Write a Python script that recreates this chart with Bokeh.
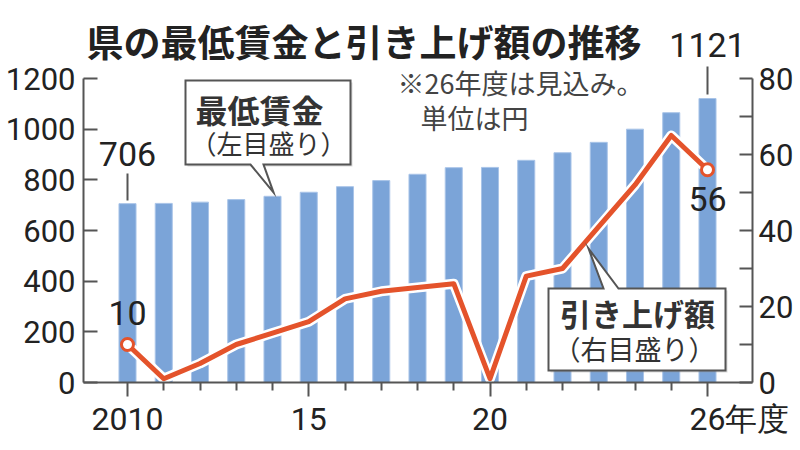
from bokeh.plotting import figure
from bokeh.models import Range1d, LinearAxis, FixedTicker
from bokeh.core.properties import value
from bokeh.embed import file_html
from bokeh.resources import INLINE

# ---- data ----
years = list(range(2010, 2027))
min_wage = [706, 707, 712, 722, 735, 751, 773, 797, 822, 848, 849, 877, 907, 948, 1000, 1065, 1121]
increase = [10, 1, 5, 10, 13, 16, 22, 24, 25, 26, 1, 28, 30, 41, 52, 65, 56]
left_ticks = [0, 200, 400, 600, 800, 1000, 1200]
right_ticks = [0, 20, 40, 60, 80]
right_minor = [10, 30, 50, 70]
x_major = [2010, 2015, 2020, 2026]
x_labels = {2010: "2010", 2015: "15", 2020: "20", 2026: "\u3000\u300026年度"}
title_text = "県の最低賃金と引き上げ額の推移"
note_lines = ["※26年度は見込み。", "単位は円"]
callout1 = ["最低賃金", "（左目盛り）"]
callout2 = ["引き上げ額", "（右目盛り）"]

NUM_FONT = "Roboto"
JP_FONT = "Noto Sans CJK JP"
BAR_C = "#7ba4d8"
LINE_C = "#e4532b"
AX_C = "#555555"
TXT_C = "#222222"

# pixel helpers (canvas pixel coords -> data)
def X(ix):
    return 2010 + (ix - 127) / 36.25

def YL(iy):
    return (382 - iy) * 1200 / 304

def YR(iy):
    return (382 - iy) * 80 / 304

p = figure(width=800, height=450, output_backend="svg", toolbar_location=None,
           x_range=Range1d(X(83), X(752)), y_range=Range1d(0, YL(0)),
           min_border_left=83, min_border_right=48, min_border_top=0, min_border_bottom=68)
p.extra_y_ranges = {"right": Range1d(0, YR(0))}
p.outline_line_color = None
p.xgrid.visible = False
p.ygrid.visible = False
p.background_fill_color = "white"
p.border_fill_color = "white"

def style_axis(ax, size="31px"):
    ax.axis_line_color = AX_C
    ax.axis_line_width = 2
    ax.major_tick_line_color = AX_C
    ax.major_tick_line_width = 2
    ax.minor_tick_line_color = AX_C
    ax.minor_tick_line_width = 2
    ax.major_label_text_font = NUM_FONT
    ax.major_label_text_font_size = size
    ax.major_label_text_color = TXT_C

# left axis
la = p.yaxis[0]
la.ticker = FixedTicker(ticks=left_ticks, minor_ticks=[])
la.bounds = (0, 1200)
style_axis(la)
la.major_tick_in = 14
la.major_tick_out = 0
la.major_label_standoff = 8

# right axis
ra = LinearAxis(y_range_name="right", ticker=FixedTicker(ticks=right_ticks, minor_ticks=right_minor), bounds=(0, 80))
style_axis(ra)
ra.major_tick_in = 13
ra.major_tick_out = 0
ra.minor_tick_in = 13
ra.minor_tick_out = 0
ra.major_label_standoff = 6
p.add_layout(ra, "right")

# bottom axis
xa = p.xaxis[0]
xa.ticker = FixedTicker(ticks=x_major, minor_ticks=[y for y in years if y not in x_major])
xa.major_label_overrides = x_labels
style_axis(xa, "32px")
xa.major_tick_in = 0
xa.major_tick_out = 14
xa.minor_tick_in = 0
xa.minor_tick_out = 8
xa.major_label_standoff = 3

# bars
p.vbar(x=years, top=min_wage, width=0.47, fill_color=BAR_C, line_color="#a9c4e8", line_width=1)

# increase line
p.line(years, increase, y_range_name="right", line_width=10, line_color="white", line_join="round")
p.line(years, increase, y_range_name="right", line_width=5, line_color=LINE_C, line_join="round")
p.scatter([years[0], years[-1]], [increase[0], increase[-1]], y_range_name="right",
          size=12, fill_color="white", line_color=LINE_C, line_width=3)

# leader lines for bar values
p.segment(x0=[years[0], years[-1]], y0=[min_wage[0] + 12, min_wage[-1] + 16],
          x1=[years[0], years[-1]], y1=[YL(173), YL(66)], line_color=AX_C, line_width=2)

# value labels
p.text(x=[years[0], years[-1]], y=[YL(153), YL(44)],
       text=[str(min_wage[0]), str(min_wage[-1])],
       text_font=value(NUM_FONT), text_font_size="34px", text_align="center",
       text_baseline="middle", text_color=TXT_C)
p.text(x=[years[0], years[-1]], y=[increase[0] + 8.2, increase[-1] - 7.6],
       text=[str(increase[0]), str(increase[-1])], y_range_name="right",
       text_font=value(NUM_FONT), text_font_size="34px", text_align="center",
       text_baseline="middle", text_color=TXT_C)

# title with cube icon
cx, cy, r = 65, 39, 13
top = (cx, cy - r); ur = (cx + 11, cy - r / 2); lr = (cx + 11, cy + r / 2)
bot = (cx, cy + r); ll = (cx - 11, cy + r / 2); ul = (cx - 11, cy - r / 2); cc = (cx, cy)
faces = [([top, ur, cc, ul], "#9a9a9a"), ([ul, cc, bot, ll], "#1a1a1a"), ([cc, ur, lr, bot], "#d6d6d6")]
for pts, col in faces:
    p.patch([X(a) for a, b in pts], [YL(b) for a, b in pts], fill_color=col, line_color="#555555", line_width=1)

p.text(x=[X(86)], y=[YL(40)], text=[title_text], text_font=value(JP_FONT), text_font_style="bold",
       text_font_size="37px", text_align="left", text_baseline="middle", text_color=TXT_C)

# note
p.text(x=[X(397), X(420)], y=[YL(82), YL(117)], text=note_lines, text_font=value(JP_FONT),
       text_font_size="27px", text_align="left", text_baseline="middle", text_color="#444444")

# callouts
def callout(pts, lines, centers, sizes, bold):
    sx = [X(a + 2) for a, b in pts]
    sy = [YL(b + 2) for a, b in pts]
    p.patch(sx, sy, fill_color="#999999", fill_alpha=0.35, line_color=None)
    p.patch([X(a) for a, b in pts], [YL(b) for a, b in pts], fill_color="white",
            line_color=AX_C, line_width=2, line_join="miter")
    for t, (tx, ty), s, b in zip(lines, centers, sizes, bold):
        p.text(x=[X(tx)], y=[YL(ty)], text=[t], text_font=value(JP_FONT),
               text_font_style="bold" if b else "normal", text_font_size=s,
               text_align="center", text_baseline="middle", text_color="#333333")

box1 = [(185, 80), (350, 80), (350, 164), (263, 164), (273, 192), (250, 164), (185, 164)]
callout(box1, callout1, [(259, 108), (268, 142)], ["32px", "26px"], [True, False])
box2 = [(548, 288), (603, 288), (588, 248), (618, 288), (725, 288), (725, 370), (548, 370)]
callout(box2, callout2, [(637, 312), (634, 348)], ["31px", "27px"], [True, False])

open("out.html", "w").write(file_html(p, INLINE))
